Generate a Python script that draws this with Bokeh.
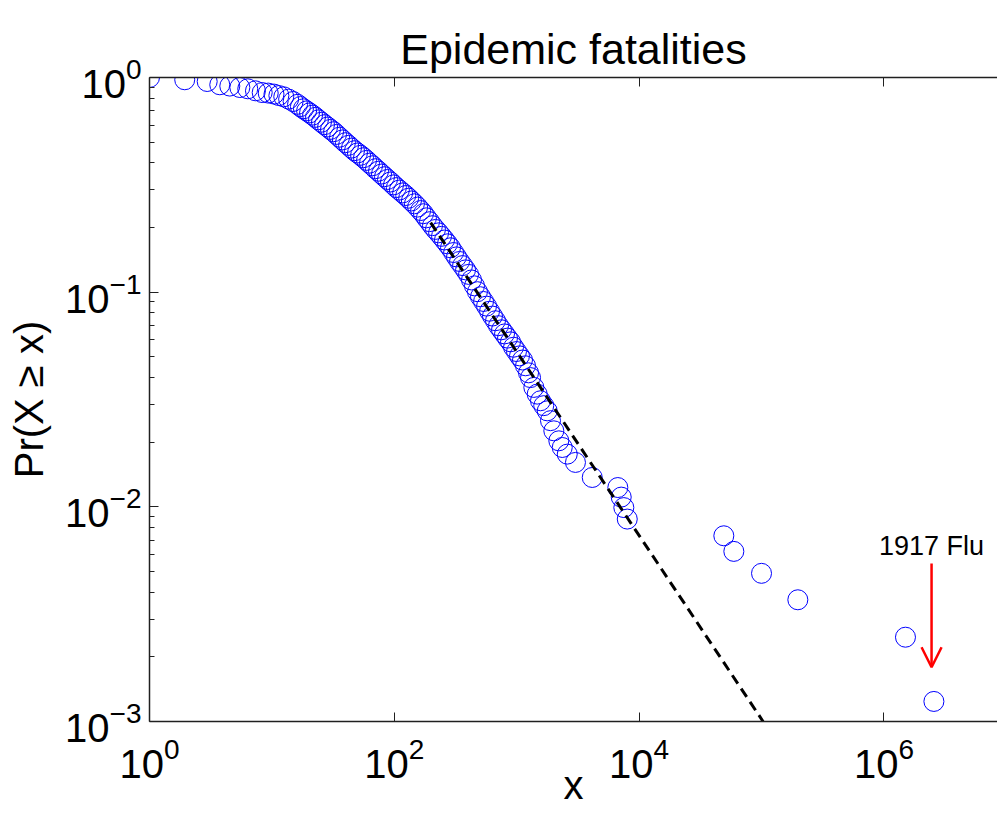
from bokeh.plotting import figure
from bokeh.models import (LogAxis, FixedTicker, Arrow, OpenHead, Label, ColumnDataSource,
                          Range1d, CustomJSTickFormatter)
from bokeh.embed import file_html
from bokeh.resources import INLINE

FONT = "Liberation Sans"

# --- data (CCDF of epidemic fatalities) ---
head_x = [1, 1.94, 2.96, 3.75, 4.53, 5.47, 6.35, 7.34, 8.33, 9.33, 10.4, 11.4, 12.5, 13.7, 14.9]
head_y = [1.0, 0.976, 0.958, 0.925, 0.912, 0.898, 0.886, 0.867, 0.851, 0.846, 0.837, 0.824, 0.813, 0.793, 0.773]

body_x = [16.2, 17.1, 18.1, 19.2, 20.3, 21.5, 22.7, 24.0, 25.4, 26.9,
          28.5, 30.1, 31.9, 33.7, 35.7, 37.7, 39.9, 42.3, 44.7, 47.3,
          50.0, 53.0, 56.0, 59.3, 62.7, 66.4, 70.2, 74.3, 78.6, 83.2,
          88.0, 93.1, 98.5, 104, 110, 117, 124, 131, 138, 146,
          155, 164, 173, 183, 194, 205, 217, 230, 243, 257,
          272, 288, 305, 322, 341, 361, 382, 404, 427, 452,
          478, 506, 536, 567, 600, 634, 671, 710, 751, 795,
          841, 890, 942, 996, 1054, 1115, 1180, 1249]
body_y = [0.750, 0.732, 0.715, 0.699, 0.684, 0.668, 0.652, 0.635, 0.619, 0.603,
          0.588, 0.573, 0.559, 0.543, 0.527, 0.512, 0.497, 0.483, 0.469, 0.456,
          0.445, 0.434, 0.423, 0.411, 0.399, 0.388, 0.376, 0.366, 0.355, 0.345,
          0.335, 0.326, 0.316, 0.307, 0.299, 0.290, 0.282, 0.274, 0.266, 0.258,
          0.249, 0.240, 0.232, 0.222, 0.213, 0.204, 0.196, 0.189, 0.182, 0.175,
          0.168, 0.161, 0.153, 0.146, 0.139, 0.133, 0.127, 0.121, 0.114, 0.107,
          0.1005, 0.0952, 0.0905, 0.0861, 0.0815, 0.0774, 0.0736, 0.0698, 0.0668, 0.0639,
          0.0611, 0.0587, 0.0554, 0.0529, 0.0505, 0.0483, 0.0454, 0.0421]

steep_x = [1297, 1380, 1470, 1564, 1663, 1775, 1888, 2010, 2208, 2355, 2588, 3020, 4140,
           6700, 7140, 7500, 8000]
steep_y = [0.0400, 0.0360, 0.0335, 0.0312, 0.0296, 0.0280, 0.0252, 0.0226, 0.0203, 0.0189,
           0.0176, 0.0161, 0.0137, 0.0123, 0.0111, 0.00992, 0.00877]

tail_x = [49200, 59400, 100000, 198000, 1500000, 2560000]
tail_y = [0.00733, 0.0062, 0.0049, 0.00369, 0.00247, 0.00124]

# power-law fit (dashed line), from x_min to where it leaves the axes
fit_x = [198, 103000]
fit_y = [0.211, 0.001]

x_ticks = [1, 1e2, 1e4, 1e6]
y_ticks = [1e-3, 1e-2, 1e-1, 1]
y_minor = [m * d for d in (1e-3, 1e-2, 1e-1) for m in range(2, 10)]

flu_x = 2.45e6
flu_arrow_y0 = 0.00545
flu_arrow_y1 = 0.00179
flu_text_y = 0.0066

src = ColumnDataSource(dict(x=head_x + body_x + steep_x + tail_x,
                            y=head_y + body_y + steep_y + tail_y))

p = figure(width=997, height=829, x_axis_type="log", y_axis_type="log",
           x_range=Range1d(1, 8.47e6), y_range=Range1d(1e-3, 1),
           output_backend="svg", toolbar_location=None,
           min_border_left=149, min_border_right=0, min_border_top=77, min_border_bottom=108,
           title="Epidemic fatalities")
p.background_fill_color = "white"
p.border_fill_color = "white"
p.outline_line_color = None
p.xgrid.visible = False
p.ygrid.visible = False

p.title.text_font = FONT
p.title.text_font_size = "43px"
p.title.text_font_style = "normal"
p.title.align = "center"
p.title.text_color = "black"
p.title.standoff = 10

AX = "#202020"
for ax in (p.xaxis[0], p.yaxis[0]):
    ax.axis_line_color = AX
    ax.axis_line_width = 1.5
    ax.major_tick_line_color = AX
    ax.minor_tick_line_color = AX
    ax.major_tick_in = 9
    ax.major_tick_out = 0
    ax.minor_tick_in = 5
    ax.minor_tick_out = 0
    ax.major_label_text_font = FONT
    ax.major_label_text_font_size = "40px"
    ax.major_label_text_color = "black"
    ax.axis_label_text_font = FONT
    ax.axis_label_text_font_size = "40px"
    ax.axis_label_text_font_style = "normal"
    ax.axis_label_text_color = "black"

p.xaxis[0].ticker = FixedTicker(ticks=x_ticks)
p.yaxis[0].ticker = FixedTicker(ticks=y_ticks, minor_ticks=y_minor)
p.xaxis[0].axis_label = "x"
p.yaxis[0].axis_label = "Pr(X \u2265 x)"
p.xaxis[0].major_label_standoff = 15
p.xaxis[0].axis_label_standoff = -18
p.yaxis[0].major_label_standoff = 8
p.yaxis[0].axis_label_standoff = 11

top = LogAxis(ticker=FixedTicker(ticks=x_ticks), major_tick_in=9, major_tick_out=0,
              minor_tick_in=0, minor_tick_out=0,
              formatter=CustomJSTickFormatter(code="return ''"),
              major_label_text_font_size="2px",
              major_label_standoff=0, axis_line_color=AX, axis_line_width=1.5,
              major_tick_line_color=AX)
p.add_layout(top, "above")

p.scatter("x", "y", source=src, marker="circle", size=20, fill_color=None,
          line_color="blue", line_width=1)
p.line(fit_x, fit_y, line_color="black", line_width=3, line_dash="10 6")

p.add_layout(Arrow(end=OpenHead(size=20, line_color="red", line_width=2.5),
                   x_start=flu_x, y_start=flu_arrow_y0, x_end=flu_x, y_end=flu_arrow_y1,
                   line_color="red", line_width=2.5))
p.add_layout(Label(x=flu_x, y=flu_text_y, text="1917 Flu", text_align="center",
                   text_baseline="alphabetic", text_font=FONT, text_font_size="27px",
                   text_color="black"))

open("out.html", "w").write(file_html(p, INLINE))
